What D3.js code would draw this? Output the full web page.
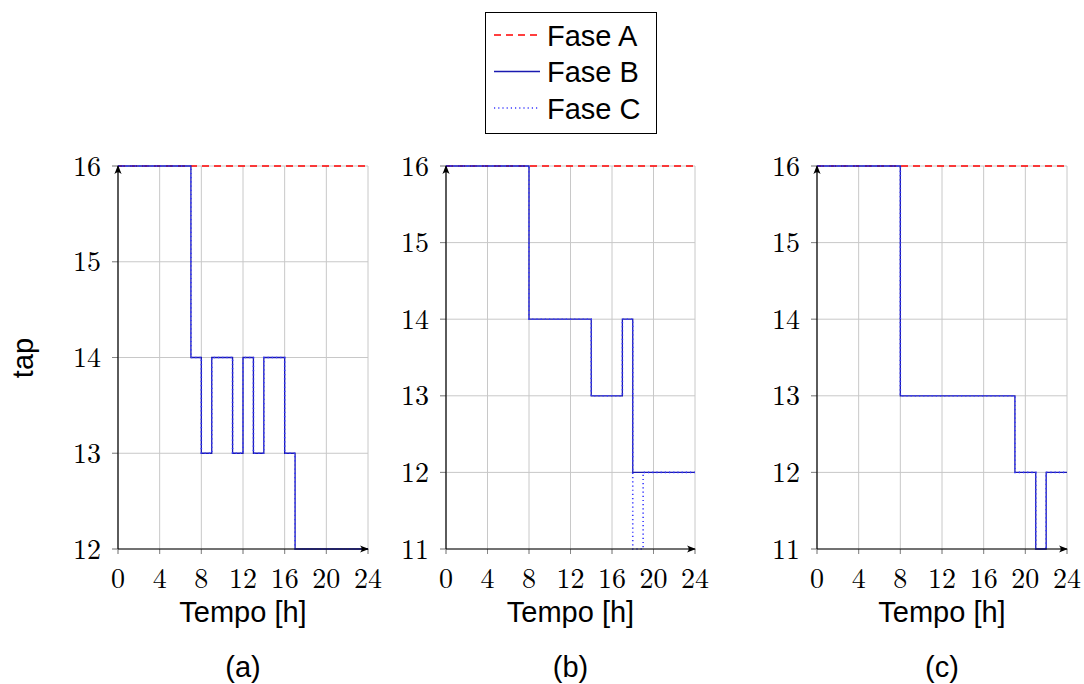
<!DOCTYPE html>
<html><head><meta charset="utf-8">
<script src="https://cdn.jsdelivr.net/npm/d3@7"></script>
<style>body{margin:0;background:#fff}svg{display:block}</style>
</head><body>
<svg id="c" width="1084" height="684"></svg>
<script>
// hourly tap values, index h = value on [h, h+1)
const hours = d3.range(0, 25);
const xTicks = [0, 4, 8, 12, 16, 20, 24];
const seriesNames = ["Fase A", "Fase B", "Fase C"];
const panelLabels = ["(a)", "(b)", "(c)"];
const yDomains = [[12, 16], [11, 16], [11, 16]];

const a_A = [16,16,16,16,16,16,16,16,16,16,16,16,16,16,16,16,16,16,16,16,16,16,16,16];
const a_B = [16,16,16,16,16,16,16,14,13,14,14,13,14,13,14,14,13,12,12,12,12,12,12,12];
const a_C = [16,16,16,16,16,16,16,14,13,14,14,13,14,13,14,14,13,12,12,12,12,12,12,12];

const b_A = [16,16,16,16,16,16,16,16,16,16,16,16,16,16,16,16,16,16,16,16,16,16,16,16];
const b_B = [16,16,16,16,16,16,16,16,14,14,14,14,14,14,13,13,13,14,12,12,12,12,12,12];
const b_C = [16,16,16,16,16,16,16,16,14,14,14,14,14,14,13,13,13,14,11,12,12,12,12,12];

const c_A = [16,16,16,16,16,16,16,16,16,16,16,16,16,16,16,16,16,16,16,16,16,16,16,16];
const c_B = [16,16,16,16,16,16,16,16,13,13,13,13,13,13,13,13,13,13,13,12,12,11,12,12];
const c_C = [16,16,16,16,16,16,16,16,13,13,13,13,13,13,13,13,13,13,13,12,12,11,12,12];

const panelsData = [[a_A, a_B, a_C], [b_A, b_B, b_C], [c_A, c_B, c_C]];

const svg = d3.select("#c");
const defs = svg.append("defs");
defs.append("marker").attr("id","arr").attr("viewBox","0 0 10 10").attr("refX",9).attr("refY",5)
  .attr("markerWidth",9).attr("markerHeight",9).attr("markerUnits","userSpaceOnUse").attr("orient","auto")
  .append("path").attr("d","M0,1 Q4,5 0,9 L10,5 Z").attr("fill","#000");

const panelX = [[118, 368], [446, 695], [817, 1067]];
const plotTop = 166, plotBottom = 549;
const serif = "'Latin Modern Roman','CMU Serif','Liberation Serif','DejaVu Serif',serif";
const sans = "'Liberation Sans', Arial, sans-serif";

const styles = [
  {stroke:"#ff0000", width:1.4, dash:"7,5"},
  {stroke:"#1a1ab0", width:1.3, dash:null},
  {stroke:"#3a3aff", width:1.6, dash:"1.2,3"}
];

panelsData.forEach((series, i) => {
  const x = d3.scaleLinear().domain([0, 24]).range(panelX[i]);
  const y = d3.scaleLinear().domain(yDomains[i]).range([plotBottom, plotTop]);
  const g = svg.append("g");
  const yTicks = d3.range(yDomains[i][0], yDomains[i][1] + 1);

  // grid
  g.append("g").selectAll("line").data(xTicks).join("line")
    .attr("x1", d => x(d)).attr("x2", d => x(d)).attr("y1", plotTop).attr("y2", plotBottom + 5)
    .attr("stroke", "#c8c8c8").attr("stroke-width", 1);
  g.append("g").selectAll("line").data(yTicks).join("line")
    .attr("y1", d => y(d)).attr("y2", d => y(d)).attr("x1", x(0) - 6).attr("x2", x(24))
    .attr("stroke", "#c8c8c8").attr("stroke-width", 1);
  // tick marks darker
  g.append("g").selectAll("line").data(xTicks).join("line")
    .attr("x1", d => x(d)).attr("x2", d => x(d)).attr("y1", plotBottom).attr("y2", plotBottom + 5)
    .attr("stroke", "#888").attr("stroke-width", 1);
  g.append("g").selectAll("line").data(yTicks).join("line")
    .attr("y1", d => y(d)).attr("y2", d => y(d)).attr("x1", x(0) - 6).attr("x2", x(0))
    .attr("stroke", "#888").attr("stroke-width", 1);

  // tick labels
  g.append("g").selectAll("text").data(xTicks).join("text")
    .attr("x", d => x(d)).attr("y", 588).attr("text-anchor", "middle")
    .attr("font-family", serif).attr("font-size", 28).text(d => d);
  g.append("g").selectAll("text").data(yTicks).join("text")
    .attr("x", x(0) - 17).attr("y", d => y(d) + 9.5).attr("text-anchor", "end")
    .attr("font-family", serif).attr("font-size", 28).text(d => d);

  // lines
  const line = d3.line().x((d, k) => x(hours[k])).y(d => y(d)).curve(d3.curveStepAfter);
  series.forEach((vals, s) => {
    const pts = vals.concat([vals[vals.length - 1]]);
    const p = g.append("path").attr("d", line(pts)).attr("fill", "none")
      .attr("stroke", styles[s].stroke).attr("stroke-width", styles[s].width);
    if (styles[s].dash) p.attr("stroke-dasharray", styles[s].dash);
  });

  // axes
  g.append("line").attr("x1", x(0)).attr("x2", x(24)).attr("y1", plotBottom).attr("y2", plotBottom)
    .attr("stroke", "#000").attr("stroke-width", 1.2).attr("marker-end", "url(#arr)");
  g.append("line").attr("x1", x(0)).attr("x2", x(0)).attr("y1", plotBottom).attr("y2", plotTop)
    .attr("stroke", "#000").attr("stroke-width", 1.2).attr("marker-end", "url(#arr)");

  // labels
  const cx = (panelX[i][0] + panelX[i][1]) / 2;
  g.append("text").attr("x", cx).attr("y", 622).attr("text-anchor", "middle")
    .attr("font-family", sans).attr("font-size", 29).text("Tempo [h]");
  g.append("text").attr("x", cx).attr("y", 677).attr("text-anchor", "middle")
    .attr("font-family", sans).attr("font-size", 29).text(panelLabels[i]);
});

svg.append("text").attr("transform", "translate(33,358) rotate(-90)").attr("text-anchor", "middle")
  .attr("font-family", sans).attr("font-size", 29).text("tap");

// legend
const lg = svg.append("g");
lg.append("rect").attr("x", 485.5).attr("y", 12.5).attr("width", 171).attr("height", 121)
  .attr("fill", "#fff").attr("stroke", "#000").attr("stroke-width", 1);
seriesNames.forEach((n, s) => {
  const yy = 35 + s * 36.5;
  const l = lg.append("line").attr("x1", 494).attr("x2", 540).attr("y1", yy).attr("y2", yy)
    .attr("stroke", styles[s].stroke).attr("stroke-width", styles[s].width);
  if (styles[s].dash) l.attr("stroke-dasharray", styles[s].dash);
  lg.append("text").attr("x", 547).attr("y", yy + 10.5).attr("font-family", sans)
    .attr("font-size", 29).text(n);
});
</script>
</body></html>
